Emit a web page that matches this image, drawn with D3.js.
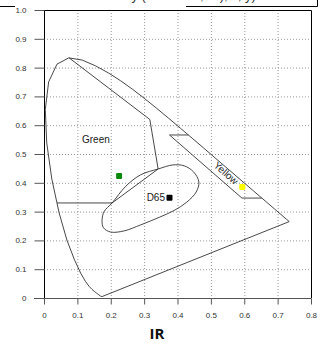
<!DOCTYPE html>
<html>
<head>
<meta charset="utf-8">
<script src="https://cdn.jsdelivr.net/npm/d3@7"></script>
<style>
  body { margin: 0; background: #fff; }
  svg { display: block; font-family: "Liberation Sans", Arial, sans-serif; }
</style>
</head>
<body>
<div id="chart"></div>
<script>
// ticks
const xTicks = [0, 0.1, 0.2, 0.3, 0.4, 0.5, 0.6, 0.7, 0.8];
const yTicks = [0, 0.1, 0.2, 0.3, 0.4, 0.5, 0.6, 0.7, 0.8, 0.9, 1.0];

// spectral locus (x, y)
const locus = [
  [0.1741, 0.0050], [0.1733, 0.0048], [0.1689, 0.0069], [0.1644, 0.0109],
  [0.1566, 0.0177], [0.1510, 0.0227], [0.1440, 0.0297], [0.1355, 0.0399],
  [0.1241, 0.0578], [0.1096, 0.0868], [0.0913, 0.1327], [0.0687, 0.2007],
  [0.0454, 0.2950], [0.0235, 0.4127], [0.0082, 0.5384], [0.0039, 0.6548],
  [0.0139, 0.7502], [0.0389, 0.8120], [0.0743, 0.8338], [0.1142, 0.8262],
  [0.1547, 0.8059], [0.1929, 0.7816], [0.2296, 0.7543], [0.2658, 0.7243],
  [0.3016, 0.6923], [0.3373, 0.6589], [0.3731, 0.6245], [0.4087, 0.5896],
  [0.4441, 0.5547], [0.4788, 0.5202], [0.5125, 0.4866], [0.5448, 0.4544],
  [0.5752, 0.4242], [0.6029, 0.3965], [0.6270, 0.3725], [0.6482, 0.3514],
  [0.6658, 0.3340], [0.6915, 0.3083], [0.7079, 0.2920], [0.7190, 0.2809],
  [0.7260, 0.2740], [0.7347, 0.2653]
];

// region boundaries
const greenEdge = [[0.075, 0.834], [0.317, 0.620], [0.342, 0.448], [0.204, 0.330], [0.039, 0.330]];
const yellowEdge = [[0.4326, 0.566], [0.376, 0.566], [0.593, 0.347], [0.6526, 0.347]];
const whiteRegion = [
  [0.204, 0.330], [0.245, 0.388], [0.290, 0.428], [0.342, 0.448], [0.386, 0.462],
  [0.420, 0.459], [0.448, 0.438], [0.464, 0.403], [0.456, 0.368], [0.428, 0.333],
  [0.390, 0.304], [0.347, 0.281], [0.290, 0.254], [0.240, 0.233], [0.200, 0.229],
  [0.178, 0.244], [0.174, 0.270], [0.180, 0.300]
];

// colour points
const points = [
  { name: 'Green',  x: 0.225, y: 0.424, color: '#0a8a0a' },
  { name: 'Yellow', x: 0.594, y: 0.385, color: '#ffff00' },
  { name: 'D65',    x: 0.376, y: 0.348, color: '#000000' }
];

const width = 321, height = 344;
const x = d3.scaleLinear().domain([0, 0.8]).range([44, 311]);
const y = d3.scaleLinear().domain([0, 1]).range([298, 10]);

const svg = d3.select('#chart').append('svg')
  .attr('width', width)
  .attr('height', height);

// clipped title box above the plot
svg.append('text')
  .attr('x', 168).attr('y', -0.5)
  .attr('text-anchor', 'middle')
  .attr('font-size', 13)
  .attr('fill', '#333')
  .text('Chromaticity (CIE 1931, 2°), x, y) ...');
svg.append('path')
  .attr('d', 'M0,6.5H15M186,6.5H317.5V0')
  .attr('stroke', '#000').attr('fill', 'none');

// grid
const grid = svg.append('g')
  .attr('stroke', '#999')
  .attr('stroke-dasharray', '1,2');
grid.selectAll('.gx')
  .data(xTicks.slice(1, -1))
  .join('line')
    .attr('x1', d => x(d) + 0.5).attr('x2', d => x(d) + 0.5)
    .attr('y1', y(1)).attr('y2', y(0));
grid.selectAll('.gy')
  .data(yTicks.slice(1, -1))
  .join('line')
    .attr('x1', x(0)).attr('x2', x(0.8))
    .attr('y1', d => y(d) + 0.5).attr('y2', d => y(d) + 0.5);

// frame (top, right)
svg.append('path')
  .attr('d', `M${x(0)},${y(1) + 0.5}H${x(0.8) + 0.5}V${y(0)}`)
  .attr('stroke', '#000').attr('fill', 'none');

const fmt = d => d === 0 ? '0' : d3.format('.1f')(d);

svg.append('g')
  .attr('transform', `translate(0,${y(0) + 0.5})`)
  .call(d3.axisBottom(x).tickValues(xTicks).tickFormat(fmt).tickSize(6).tickPadding(8))
  .call(g => g.select('.domain').attr('stroke', '#555').attr('d', `M34,0H${x(0.8) + 0.5}`))
  .call(g => g.selectAll('.tick line').attr('stroke', '#555'))
  .call(g => g.selectAll('.tick text').attr('fill', '#333').attr('font-size', 8).attr('font-family', null));

svg.append('g')
  .attr('transform', `translate(${x(0) + 0.5},0)`)
  .call(d3.axisLeft(y).tickValues(yTicks).tickFormat(fmt).tickSize(10).tickPadding(8))
  .call(g => g.select('.domain').attr('stroke', '#000').attr('d', `M0,${y(1)}V${y(0)}`))
  .call(g => g.selectAll('.tick line').attr('stroke', '#555'))
  .call(g => g.selectAll('.tick text').attr('fill', '#333').attr('font-size', 8).attr('font-family', null));

const line = d3.line().x(d => x(d[0])).y(d => y(d[1]));

const curves = svg.append('g')
  .attr('fill', 'none')
  .attr('stroke', '#333')
  .attr('stroke-width', 0.9);

curves.append('path')
  .attr('d', line.curve(d3.curveLinearClosed)(locus));
curves.append('path')
  .attr('d', d3.line().x(d => x(d[0])).y(d => y(d[1]))(greenEdge));
curves.append('path')
  .attr('d', d3.line().x(d => x(d[0])).y(d => y(d[1]))(yellowEdge));
curves.append('path')
  .attr('d', d3.line().x(d => x(d[0])).y(d => y(d[1])).curve(d3.curveCatmullRomClosed)(whiteRegion));

// points
svg.append('g').selectAll('rect')
  .data(points)
  .join('rect')
    .attr('x', d => x(d.x) - 3)
    .attr('y', d => y(d.y) - 3)
    .attr('width', 6).attr('height', 6)
    .attr('rx', 1)
    .attr('fill', d => d.color);

// labels
svg.append('text')
  .attr('x', 82).attr('y', 143)
  .attr('font-size', 10).attr('fill', '#222')
  .text('Green');
svg.append('text')
  .attr('x', 165).attr('y', 201)
  .attr('text-anchor', 'end')
  .attr('font-size', 10).attr('fill', '#222')
  .text('D65');
svg.append('text')
  .attr('transform', 'translate(226,173) rotate(41)')
  .attr('text-anchor', 'middle')
  .attr('dy', '0.35em')
  .attr('font-size', 10).attr('fill', '#222')
  .text('Yellow');

svg.append('text')
  .attr('x', 157).attr('y', 339)
  .attr('text-anchor', 'middle')
  .attr('font-family', '"Open Sans", sans-serif')
  .attr('font-weight', 'bold')
  .attr('font-size', 15)
  .attr('fill', '#111')
  .text('IR');
</script>
</body>
</html>
